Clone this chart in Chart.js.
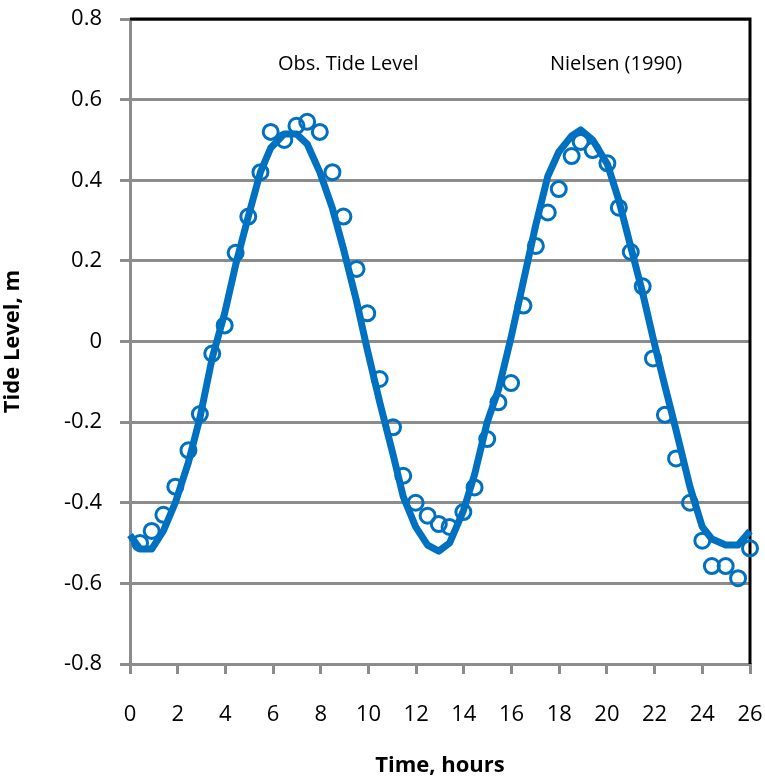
<!DOCTYPE html>
<html>
<head>
<meta charset="utf-8">
<script src="https://cdn.jsdelivr.net/npm/chart.js@4/dist/chart.umd.min.js"></script>
<style>
  html, body { margin: 0; padding: 0; background: #fff; }
  #wrap { width: 765px; height: 780px; }
</style>
</head>
<body>
<div id="wrap"><canvas id="c" width="765" height="780"></canvas></div>
<script>
// Observed tide level (hours, m)
const obsTime = [0.42, 0.91, 1.4, 1.9, 2.45, 2.93, 3.45, 3.97, 4.43, 4.96, 5.47, 5.9, 6.47, 6.98, 7.43, 7.96, 8.49, 8.95, 9.5, 9.95,
  10.47, 11.03, 11.46, 11.98, 12.48, 12.95, 13.4, 13.98, 14.45, 14.98, 15.45, 15.98, 16.5, 17.02, 17.52, 17.98, 18.52, 18.9, 19.4,
  20.02, 20.5, 21.0, 21.5, 21.93, 22.43, 22.9, 23.48, 24.0, 24.4, 24.98, 25.5, 26.0];
const obsLevel = [-0.50, -0.47, -0.43, -0.36, -0.27, -0.18, -0.03, 0.04, 0.22, 0.31, 0.42, 0.52, 0.50, 0.535, 0.545, 0.52, 0.42, 0.31, 0.18, 0.07,
  -0.093, -0.213, -0.333, -0.40, -0.432, -0.453, -0.46, -0.423, -0.362, -0.242, -0.151, -0.103, 0.089, 0.237, 0.32, 0.378, 0.46, 0.495, 0.475,
  0.442, 0.332, 0.222, 0.137, -0.042, -0.182, -0.29, -0.40, -0.494, -0.557, -0.557, -0.587, -0.513];

// Nielsen (1990) model
const modelTime = [0, 0.42, 0.91, 1.4, 1.9, 2.45, 2.93, 3.45, 3.97, 4.43, 4.96, 5.47, 5.9, 6.47, 6.98, 7.43, 7.96, 8.49, 8.95, 9.5, 9.95,
  10.47, 11.03, 11.46, 11.98, 12.48, 12.95, 13.4, 13.98, 14.45, 14.98, 15.45, 15.98, 16.5, 17.02, 17.52, 17.98, 18.52, 18.9, 19.4,
  20.02, 20.5, 21.0, 21.5, 21.93, 22.43, 22.9, 23.48, 24.0, 24.4, 24.98, 25.5, 26.0];
const modelLevel = [-0.48, -0.515, -0.515, -0.47, -0.40, -0.30, -0.19, -0.04, 0.07, 0.19, 0.31, 0.42, 0.48, 0.515, 0.515, 0.49, 0.42, 0.33, 0.23, 0.10, -0.02,
  -0.15, -0.28, -0.385, -0.46, -0.505, -0.52, -0.50, -0.42, -0.33, -0.20, -0.12, 0.01, 0.15, 0.29, 0.41, 0.47, 0.51, 0.525, 0.50,
  0.44, 0.35, 0.235, 0.12, 0.01, -0.11, -0.22, -0.36, -0.46, -0.49, -0.505, -0.505, -0.47];

const xTickLabels = ['0','2','4','6','8','10','12','14','16','18','20','22','24','26'];
const yTickLabels = ['-0.8','-0.6','-0.4','-0.2','0','0.2','0.4','0.6','0.8'];
const seriesNames = ['Obs. Tide Level', 'Nielsen (1990)'];

const FONT = "'Open Sans', sans-serif";
const BLUE = '#0070C0';
const GRID = '#8c8c8c';

const toXY = (xs, ys) => xs.map((x, i) => ({ x: x, y: ys[i] }));

const frame = {
  id: 'frame',
  beforeDatasetsDraw(chart) {
    const { ctx, chartArea: a } = chart;
    ctx.save();
    ctx.strokeStyle = '#000';
    ctx.lineWidth = 3;
    ctx.beginPath();
    ctx.moveTo(a.left, a.top);
    ctx.lineTo(a.right, a.top);
    ctx.lineTo(a.right, a.bottom);
    ctx.stroke();
    ctx.restore();
  },
  afterDraw(chart) {
    const { ctx, chartArea: a } = chart;
    ctx.save();
    ctx.fillStyle = '#000';
    ctx.font = "20px " + FONT;
    ctx.textAlign = 'center';
    ctx.textBaseline = 'middle';
    const w = a.right - a.left, h = a.bottom - a.top;
    ctx.fillText(seriesNames[0], a.left + 0.352 * w, a.top + 0.07 * h);
    ctx.fillText(seriesNames[1], a.left + 0.784 * w, a.top + 0.07 * h);
    ctx.restore();
  }
};

new Chart(document.getElementById('c'), {
  type: 'scatter',
  data: {
    datasets: [
      {
        label: seriesNames[0],
        data: toXY(obsTime, obsLevel),
        showLine: false,
        pointStyle: 'circle',
        pointRadius: 7.5,
        pointBorderWidth: 3,
        pointBorderColor: BLUE,
        pointBackgroundColor: 'rgba(0,0,0,0)',
        clip: false,
        order: 2
      },
      {
        label: seriesNames[1],
        data: toXY(modelTime, modelLevel),
        showLine: true,
        borderColor: BLUE,
        borderWidth: 7,
        pointRadius: 0,
        tension: 0,
        borderJoinStyle: 'round',
        borderCapStyle: 'butt',
        clip: false,
        order: 1
      }
    ]
  },
  options: {
    responsive: false,
    animation: false,
    devicePixelRatio: 1,
    layout: { padding: { left: 0, right: 15, top: 19, bottom: 0 } },
    plugins: { legend: { display: false }, tooltip: { enabled: false } },
    scales: {
      x: {
        type: 'linear',
        min: 0, max: 26,
        afterFit(scale) { scale.height = 116; scale.paddingLeft = 0; scale.paddingRight = 0; },
        ticks: {
          stepSize: 2,
          padding: 28,
          color: '#000',
          font: { family: FONT, size: 22 },
          maxRotation: 0,
          autoSkip: false,
          callback: (v, i) => xTickLabels[i]
        },
        grid: { drawOnChartArea: false, drawTicks: true, tickLength: 10, color: GRID, lineWidth: 3 },
        border: { display: true, color: GRID, width: 3 },
        title: { display: true, text: 'Time, hours', color: '#000', font: { family: FONT, size: 22, weight: 'bold' }, padding: { top: 0, bottom: 1 } }
      },
      y: {
        type: 'linear',
        min: -0.8, max: 0.8,
        afterFit(scale) { scale.width = 130; scale.paddingTop = 0; scale.paddingBottom = 0; },
        ticks: {
          stepSize: 0.2,
          padding: 18,
          color: '#000',
          font: { family: FONT, size: 22 },
          autoSkip: false,
          callback: (v, i) => yTickLabels[i]
        },
        grid: { drawOnChartArea: true, drawTicks: true, tickLength: 10, color: GRID, lineWidth: 3 },
        border: { display: true, color: GRID, width: 3 },
        title: { display: true, text: 'Tide Level, m', color: '#000', font: { family: FONT, size: 22, weight: 'bold' }, padding: { top: 0, bottom: 5 } }
      }
    }
  },
  plugins: [frame]
});
</script>
</body>
</html>
